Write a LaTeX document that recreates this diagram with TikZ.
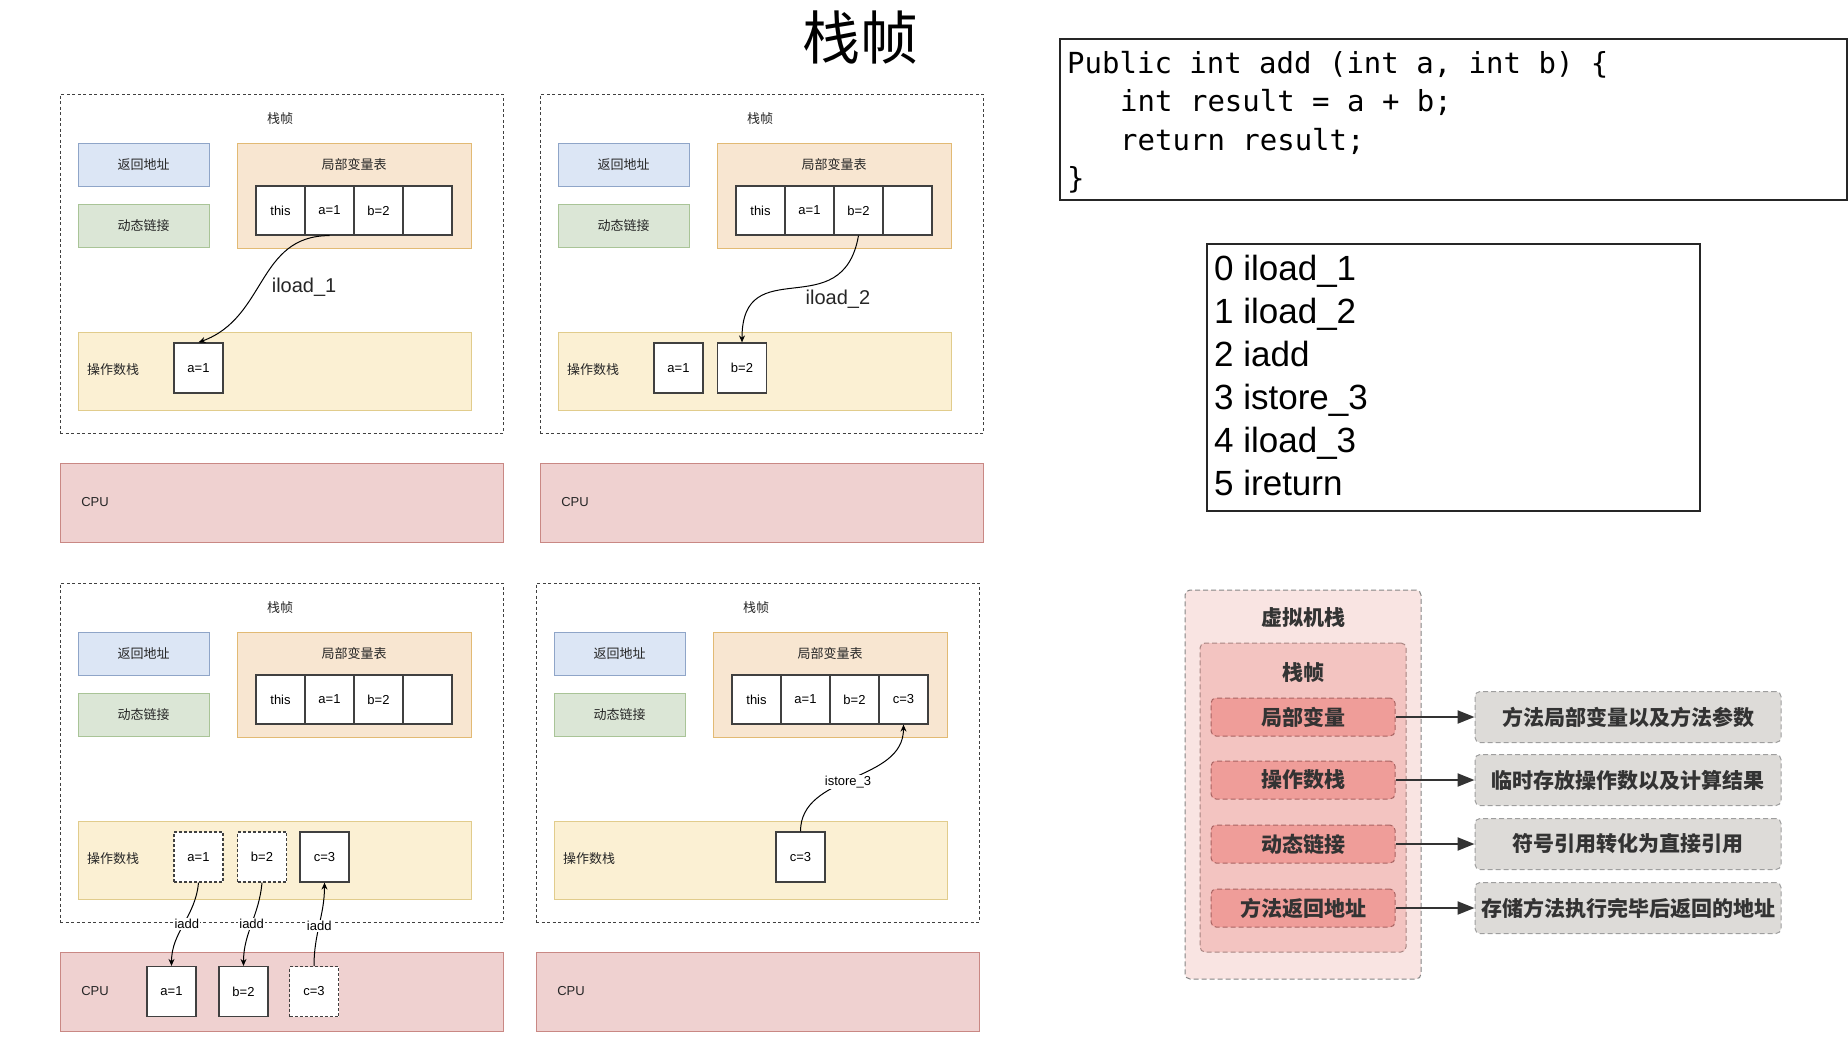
\documentclass[tikz,border=0pt]{standalone}
\usepackage{fontspec}
\setmainfont{Liberation Sans}
\newfontfamily\cjk{Noto Sans CJK SC}
\newfontfamily\mono{DejaVu Sans Mono}
\usetikzlibrary{arrows.meta}
\definecolor{retfill}{HTML}{DCE6F5}
\definecolor{retline}{HTML}{8FA5C8}
\definecolor{dynfill}{HTML}{DBE6D6}
\definecolor{dynline}{HTML}{A9C497}
\definecolor{lvtfill}{HTML}{F8E6D1}
\definecolor{lvtline}{HTML}{E2BA74}
\definecolor{opsfill}{HTML}{FBF0D3}
\definecolor{opsline}{HTML}{E1CC8C}
\definecolor{cpufill}{HTML}{EFD1D0}
\definecolor{cpuline}{HTML}{C98884}
\definecolor{vmfill}{HTML}{F9E4E2}
\definecolor{vmline}{HTML}{858585}
\definecolor{sffill}{HTML}{F3C4C1}
\definecolor{sfline}{HTML}{A88582}
\definecolor{partfill}{HTML}{EF9D99}
\definecolor{partline}{HTML}{A96462}
\definecolor{notefill}{HTML}{DDDBD8}
\definecolor{noteline}{HTML}{9E9E9E}
\definecolor{ink}{HTML}{333333}
\tikzset{
  frm/.style={draw=black!75, line width=0.8pt, dash pattern=on 3pt off 2.5pt, minimum width=443, minimum height=339, inner sep=0pt},
  hd/.style={font=\cjk\fontsize{13}{15}\selectfont, text=black!85, inner sep=0pt},
  retbox/.style={hd, draw=retline, fill=retfill, line width=1pt, minimum width=131, minimum height=43},
  dynbox/.style={hd, draw=dynline, fill=dynfill, line width=1pt, minimum width=131, minimum height=43},
  lvtbox/.style={draw=lvtline, fill=lvtfill, line width=1pt, minimum width=234, minimum height=105, inner sep=0pt},
  opsbox/.style={draw=opsline, fill=opsfill, line width=1pt, minimum width=393, minimum height=78, inner sep=0pt},
  cpubox/.style={draw=cpuline, fill=cpufill, line width=1pt, minimum width=443, minimum height=79, inner sep=0pt},
  cellbox/.style={draw=black!75, fill=white, line width=1.2pt, minimum width=49, minimum height=49, inner sep=0pt, font=\fontsize{13}{15}\selectfont},
  slotbox/.style={cellbox, minimum height=50},
  ghostbox/.style={slotbox, dash pattern=on 3pt off 2pt},
  txt/.style={font=\fontsize{13}{15}\selectfont, text=black!85, inner sep=0pt},
  flowline/.style={-{Stealth[length=7pt,width=6pt]}, line width=1pt, black},
  oplabel/.style={font=\fontsize{13}{15}\selectfont, fill=white, inner sep=1pt},
  bigop/.style={font=\fontsize{20}{22}\selectfont, text=black!85, inner sep=1pt},
  codebox/.style={draw=black!85, line width=1.2pt, minimum width=787, minimum height=161, inner sep=0pt},
  codeline/.style={font=\mono\fontsize{29}{35}\selectfont, anchor=base west, inner sep=0pt},
  bcbox/.style={draw=black!85, line width=1.2pt, minimum width=493, minimum height=267, inner sep=0pt},
  bcline/.style={font=\fontsize{35}{40}\selectfont, anchor=base west, inner sep=0pt},
  vmbox/.style={draw=vmline, fill=vmfill, line width=1pt, dash pattern=on 5pt off 3pt, rounded corners=5pt, minimum width=236, minimum height=389, inner sep=0pt},
  sfbox/.style={draw=sfline, fill=sffill, line width=1pt, dash pattern=on 5pt off 3pt, rounded corners=5pt, minimum width=206, minimum height=309, inner sep=0pt},
  boldtxt/.style={font=\cjk\bfseries\fontsize{21}{24}\selectfont, text=ink, inner sep=0pt},
  partbox/.style={boldtxt, draw=partline, fill=partfill, line width=1pt, dash pattern=on 5pt off 3pt, rounded corners=5pt, minimum width=184, minimum height=38},
  notebox/.style={boldtxt, draw=noteline, fill=notefill, line width=1pt, dash pattern=on 5pt off 3pt, rounded corners=5pt, minimum width=306, minimum height=51},
  notearrow/.style={-{Triangle[length=17pt,width=13pt]}, line width=2.2pt, ink}
}
\begin{document}
\begin{tikzpicture}[x=1pt,y=-1pt]
\useasboundingbox (0,0) rectangle (1848,1044);

\node[font=\cjk\fontsize{58}{60}\selectfont] (title) at (860,38) {栈帧};

\node[frm] (f1) at (281.5,263.5) {};
\node[hd] (h1) at (280,119) {栈帧};
\node[retbox] (r1) at (143.5,164.5) {返回地址};
\node[dynbox] (d1) at (143.5,225.5) {动态链接};
\node[lvtbox] (l1) at (354,195.5) {};
\node[hd] (lt1) at (354,165) {局部变量表};
\node[cellbox] (v1a) at (280.5,210.5) {this};
\node[cellbox] (v1b) at (329.5,210.5) {a=1};
\node[cellbox] (v1c) at (378.5,210.5) {b=2};
\node[cellbox] (v1d) at (427.5,210.5) {};
\node[opsbox] (o1) at (274.5,371) {};
\node[hd] (ot1) at (113,370) {操作数栈};
\node[slotbox] (s1a) at (198.5,368) {a=1};
\node[cpubox] (u1) at (281.5,502.5) {};
\node[txt] (ut1) at (95,502) {CPU};
\draw[flowline] (v1b.south) to[out=180,in=20,looseness=1.1] node[bigop,right=8pt,yshift=-8pt] {iload\_1} (s1a.north);

\node[frm] (f2) at (761.5,263.5) {};
\node[hd] (h2) at (760,119) {栈帧};
\node[retbox] (r2) at (623.5,164.5) {返回地址};
\node[dynbox] (d2) at (623.5,225.5) {动态链接};
\node[lvtbox] (l2) at (834,195.5) {};
\node[hd] (lt2) at (834,165) {局部变量表};
\node[cellbox] (v2a) at (760.5,210.5) {this};
\node[cellbox] (v2b) at (809.5,210.5) {a=1};
\node[cellbox] (v2c) at (858.5,210.5) {b=2};
\node[cellbox] (v2d) at (907.5,210.5) {};
\node[opsbox] (o2) at (754.5,371) {};
\node[hd] (ot2) at (593,370) {操作数栈};
\node[slotbox] (s2a) at (678.5,368) {a=1};
\node[slotbox] (s2b) at (742,368) {b=2};
\node[cpubox] (u2) at (761.5,502.5) {};
\node[txt] (ut2) at (575,502) {CPU};
\draw[flowline] (v2c.south) to[out=-100,in=90,looseness=1.5] node[bigop,anchor=north west,xshift=10pt] {iload\_2} (s2b.north);

\node[frm] (f3) at (281.5,752.5) {};
\node[hd] (h3) at (280,608) {栈帧};
\node[retbox] (r3) at (143.5,653.5) {返回地址};
\node[dynbox] (d3) at (143.5,714.5) {动态链接};
\node[lvtbox] (l3) at (354,684.5) {};
\node[hd] (lt3) at (354,654) {局部变量表};
\node[cellbox] (v3a) at (280.5,699.5) {this};
\node[cellbox] (v3b) at (329.5,699.5) {a=1};
\node[cellbox] (v3c) at (378.5,699.5) {b=2};
\node[cellbox] (v3d) at (427.5,699.5) {};
\node[opsbox] (o3) at (274.5,860) {};
\node[hd] (ot3) at (113,859) {操作数栈};
\node[ghostbox] (s3a) at (198.5,857) {a=1};
\node[ghostbox] (s3b) at (262,857) {b=2};
\node[slotbox] (s3c) at (324.5,857) {c=3};
\node[cpubox] (u3) at (281.5,991.5) {};
\node[txt] (ut3) at (95,991) {CPU};
\node[slotbox] (c3a) at (171.5,991.5) {a=1};
\node[slotbox] (c3b) at (243.5,991.5) {b=2};
\node[ghostbox] (c3c) at (314,991.5) {c=3};
\draw[flowline] (s3a.south) to[out=-95,in=90] node[oplabel,xshift=3pt] {iadd} (c3a.north);
\draw[flowline] (s3b.south) to[out=-95,in=90] node[oplabel] {iadd} (c3b.north);
\draw[flowline] (c3c.north) to[out=90,in=-90] node[oplabel,yshift=-2pt] {iadd} (s3c.south);

\node[frm] (f4) at (757.5,752.5) {};
\node[hd] (h4) at (756,608) {栈帧};
\node[retbox] (r4) at (619.5,653.5) {返回地址};
\node[dynbox] (d4) at (619.5,714.5) {动态链接};
\node[lvtbox] (l4) at (830,684.5) {};
\node[hd] (lt4) at (830,654) {局部变量表};
\node[cellbox] (v4a) at (756.5,699.5) {this};
\node[cellbox] (v4b) at (805.5,699.5) {a=1};
\node[cellbox] (v4c) at (854.5,699.5) {b=2};
\node[cellbox] (v4d) at (903.5,699.5) {c=3};
\node[opsbox] (o4) at (750.5,860) {};
\node[hd] (ot4) at (589,859) {操作数栈};
\node[slotbox] (s4c) at (800.5,857) {c=3};
\node[cpubox] (u4) at (757.5,991.5) {};
\node[txt] (ut4) at (571,991) {CPU};
\draw[flowline] (s4c.north) to[out=90,in=-90] node[oplabel,xshift=-4pt,yshift=-4pt] {istore\_3} (v4d.south);

\node[codebox] (code) at (1453.5,119.5) {};
\node[codeline] (cl1) at (1067,73) {Public int add (int a, int b) \{};
\node[codeline] (cl2) at (1120,111.5) {int result = a + b;};
\node[codeline] (cl3) at (1120,150) {return result;};
\node[codeline] (cl4) at (1067,188.5) {\}};

\node[bcbox] (bc) at (1453.5,377.5) {};
\node[bcline] (bc0) at (1214,280) {0 iload\_1};
\node[bcline] (bc1) at (1214,323) {1 iload\_2};
\node[bcline] (bc2) at (1214,366) {2 iadd};
\node[bcline] (bc3) at (1214,409) {3 istore\_3};
\node[bcline] (bc4) at (1214,452) {4 iload\_3};
\node[bcline] (bc5) at (1214,495) {5 ireturn};

\node[vmbox] (vm) at (1303,784.5) {};
\node[boldtxt] (vmt) at (1303,618) {虚拟机栈};
\node[sfbox] (sf) at (1303,797.5) {};
\node[boldtxt] (sft) at (1303,673) {栈帧};
\node[partbox] (p1) at (1303,717) {局部变量};
\node[partbox] (p2) at (1303,780) {操作数栈};
\node[partbox] (p3) at (1303,844) {动态链接};
\node[partbox] (p4) at (1303,908) {方法返回地址};
\node[notebox] (n1) at (1628,717) {方法局部变量以及方法参数};
\node[notebox] (n2) at (1628,780) {临时存放操作数以及计算结果};
\node[notebox] (n3) at (1628,844) {符号引用转化为直接引用};
\node[notebox] (n4) at (1628,908) {存储方法执行完毕后返回的地址};
\draw[notearrow] (p1) -- (n1);
\draw[notearrow] (p2) -- (n2);
\draw[notearrow] (p3) -- (n3);
\draw[notearrow] (p4) -- (n4);
\end{tikzpicture}
\end{document}
